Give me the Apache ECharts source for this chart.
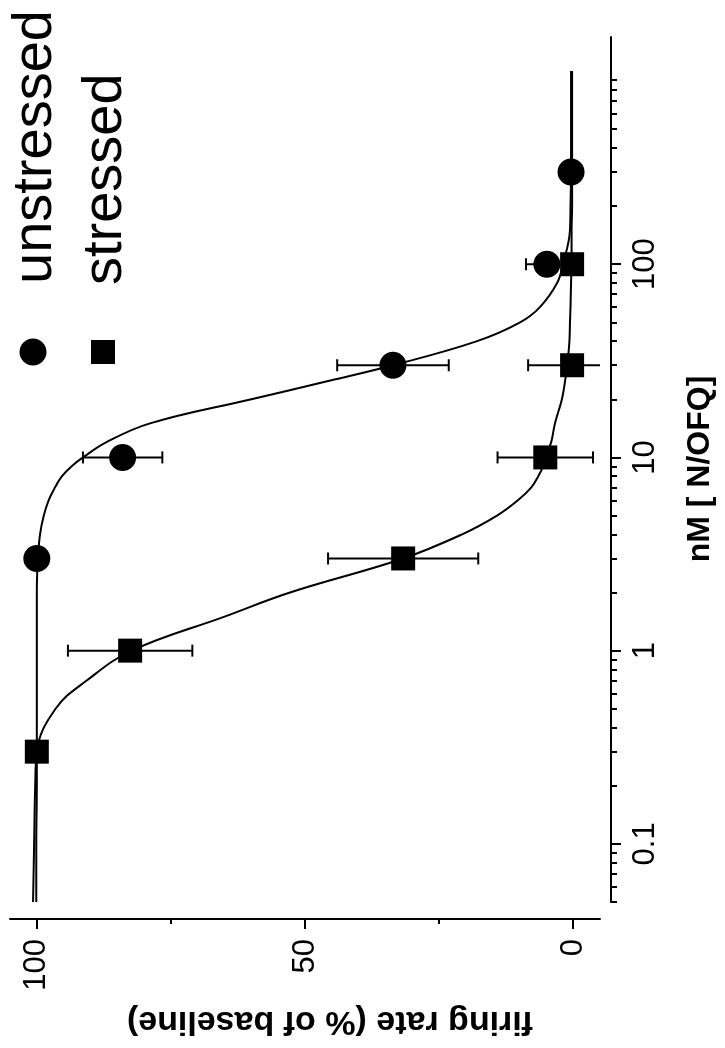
<!DOCTYPE html>
<html>
<head>
<meta charset="utf-8">
<style>
  html, body { margin: 0; padding: 0; background: #fff; }
  #chart { width: 725px; height: 1048px; }
</style>
<script src="https://cdn.jsdelivr.net/npm/echarts@6/dist/echarts.min.js"></script>
</head>
<body>
<div id="chart"></div>
<script>
  // measured points: concentration (nM), firing rate (% of baseline), error
  const unstressedConc = [3, 10, 30, 100, 300];
  const unstressedRate = [100, 84, 33.6, 4.9, 0.4];
  const unstressedErr = [0, 7.4, 10.4, 3.9, 0];

  const stressedConc = [0.3, 1, 3, 10, 30, 100];
  const stressedRate = [100, 82.6, 31.7, 5.2, 0.2, 0.2];
  const stressedErr = [0, 11.6, 14, 8.9, 8.2, 0];

  // fitted curves
  const fitConc = [0.05, 0.1, 0.2, 0.3, 0.5, 0.7, 1, 1.5, 2, 3, 4, 5, 6, 7, 8, 9, 10, 12, 15, 20, 25, 30, 40, 50, 60, 80, 100, 150, 200, 300, 500, 1000];
  const unstressedFit = [100.1, 100.1, 100, 100, 100, 100, 100, 100, 100, 99.8, 99.4, 98.7, 97.8, 96.6, 95.3, 93.5, 91.4, 87, 78.9, 60, 45.3, 33.6, 17.9, 9.9, 6.2, 3.0, 1.9, 0.6, 0.5, 0.4, 0.4, 0.4];
  const stressedFit = [100.7, 100.5, 100.3, 100, 96.5, 90.7, 82.3, 65, 52.8, 31.7, 20.7, 14.2, 10.3, 7.8, 6.5, 5.6, 5.2, 4.1, 3.4, 2.1, 1.5, 1.1, 0.7, 0.6, 0.5, 0.4, 0.3, 0.3, 0.2, 0.2, 0.2, 0.2];

  // axis ticks
  const concTicks = [0.1, 1, 10, 100];
  const concMinorTicks = [0.05, 0.06, 0.07, 0.08, 0.09,
    0.2, 0.3, 0.4, 0.5, 0.6, 0.7, 0.8, 0.9,
    2, 3, 4, 5, 6, 7, 8, 9,
    20, 30, 40, 50, 60, 70, 80, 90,
    200, 300, 400, 500, 600, 700, 800, 900];
  const rateTicks = [0, 50, 100];
  const rateMinorTicks = [25, 75];

  const font = '"Liberation Sans", Arial, sans-serif';
  const black = '#000';

  let myChart = echarts.init(document.getElementById('chart'));

  function errorBars(params, api) {
    let r = api.value(0), c = api.value(1), e = api.value(2);
    if (!e) return;
    let p1 = api.coord([r - e, c]);
    let p2 = api.coord([r + e, c]);
    let cap = 6;
    let style = { stroke: black, lineWidth: 2 };
    return {
      type: 'group',
      children: [
        { type: 'line', shape: { x1: p1[0], y1: p1[1], x2: p2[0], y2: p2[1] }, style: style },
        { type: 'line', shape: { x1: p1[0], y1: p1[1] - cap, x2: p1[0], y2: p1[1] + cap }, style: style },
        { type: 'line', shape: { x1: p2[0], y1: p2[1] - cap, x2: p2[0], y2: p2[1] + cap }, style: style }
      ]
    };
  }

  let rateAxis = {
    type: 'value',
    min: -5,
    max: 105,
    inverse: true,
    position: 'bottom',
    offset: 17,
    splitLine: { show: false }
  };
  let concAxis = {
    type: 'log',
    logBase: 10,
    min: 0.05,
    max: 1500,
    position: 'right',
    offset: 11,
    splitLine: { show: false }
  };

  let option = {
    animation: false,
    backgroundColor: '#fff',
    grid: { left: 10, right: 125, top: 37, bottom: 146, containLabel: false },
    xAxis: [
      Object.assign({}, rateAxis, {
        axisLine: { onZero: false, lineStyle: { color: black, width: 2 } },
        axisTick: { customValues: rateTicks, length: 10, lineStyle: { color: black, width: 2 } },
        axisLabel: { customValues: rateTicks, rotate: 90, margin: 20, color: black, fontSize: 31, fontFamily: font }
      }),
      Object.assign({}, rateAxis, {
        axisLine: { show: false, onZero: false },
        axisTick: { customValues: rateMinorTicks, length: 5, lineStyle: { color: black, width: 2 } },
        axisLabel: { show: false }
      })
    ],
    yAxis: [
      Object.assign({}, concAxis, {
        axisLine: { onZero: false, lineStyle: { color: black, width: 2 } },
        axisTick: { customValues: concTicks, length: 10, lineStyle: { color: black, width: 2 } },
        axisLabel: {
          customValues: concTicks, rotate: 90, margin: 19, color: black, fontSize: 31, fontFamily: font,
          formatter: (v) => String(+Number(v).toPrecision(2))
        }
      }),
      Object.assign({}, concAxis, {
        axisLine: { show: false, onZero: false },
        axisTick: { customValues: concMinorTicks, length: 6, lineStyle: { color: black, width: 2 } },
        axisLabel: { show: false }
      })
    ],
    series: [
      {
        name: 'unstressed fit',
        type: 'line',
        showSymbol: false,
        smooth: 0.4,
        lineStyle: { color: black, width: 2 },
        data: fitConc.map((c, i) => [unstressedFit[i], c])
      },
      {
        name: 'stressed fit',
        type: 'line',
        showSymbol: false,
        smooth: 0.4,
        lineStyle: { color: black, width: 2 },
        data: fitConc.map((c, i) => [stressedFit[i], c])
      },
      {
        name: 'unstressed err',
        type: 'custom',
        clip: true,
        renderItem: errorBars,
        encode: { x: 0, y: 1 },
        data: unstressedConc.map((c, i) => [unstressedRate[i], c, unstressedErr[i]])
      },
      {
        name: 'stressed err',
        type: 'custom',
        clip: true,
        renderItem: errorBars,
        encode: { x: 0, y: 1 },
        data: stressedConc.map((c, i) => [stressedRate[i], c, stressedErr[i]])
      },
      {
        name: 'unstressed',
        type: 'scatter',
        symbol: 'circle',
        symbolSize: 27,
        itemStyle: { color: black, opacity: 1 },
        data: unstressedConc.map((c, i) => [unstressedRate[i], c])
      },
      {
        name: 'stressed',
        type: 'scatter',
        symbol: 'rect',
        symbolSize: 24,
        itemStyle: { color: black, opacity: 1 },
        data: stressedConc.map((c, i) => [stressedRate[i], c])
      }
    ],
    graphic: [
      // legend
      { type: 'circle', shape: { cx: 33, cy: 352, r: 13.5 }, style: { fill: black } },
      { type: 'rect', shape: { x: 91, y: 340, width: 24, height: 24 }, style: { fill: black } },
      {
        type: 'text', x: 36, y: 284, rotation: Math.PI / 2,
        style: { text: 'unstressed', font: '56px ' + font, fill: black, textAlign: 'left', textVerticalAlign: 'middle' }
      },
      {
        type: 'text', x: 106, y: 285, rotation: Math.PI / 2,
        style: { text: 'stressed', font: '56px ' + font, fill: black, textAlign: 'left', textVerticalAlign: 'middle' }
      },
      // axis titles
      {
        type: 'text', x: 330, y: 1021, rotation: Math.PI,
        style: { text: 'firing rate (% of baseline)', font: 'bold 34px ' + font, fill: black, textAlign: 'center', textVerticalAlign: 'middle' }
      },
      {
        type: 'text', x: 700, y: 469, rotation: Math.PI / 2,
        style: { text: 'nM [ N/OFQ]', font: 'bold 32px ' + font, fill: black, textAlign: 'center', textVerticalAlign: 'middle' }
      }
    ]
  };

  myChart.setOption(option);
</script>
</body>
</html>
